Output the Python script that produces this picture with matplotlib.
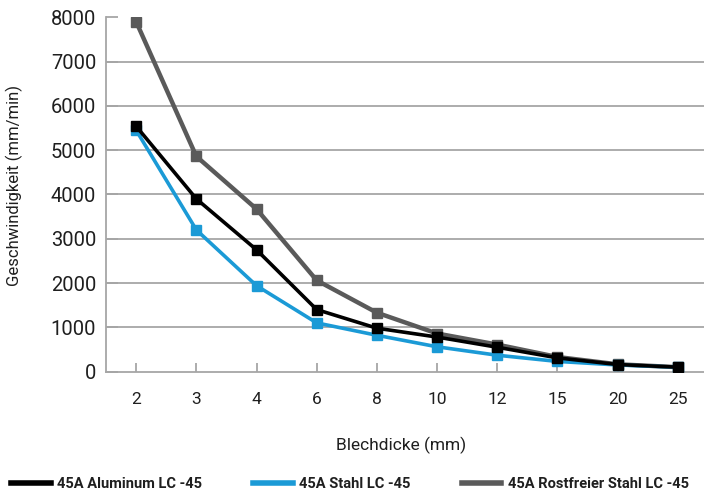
import matplotlib

matplotlib.use("Agg")
import matplotlib.pyplot as plt  # noqa: E402

plt.rcParams["font.family"] = ["Roboto", "DejaVu Sans"]

thickness = ["2", "3", "4", "6", "8", "10", "12", "15", "20", "25"]
aluminum = [5540, 3900, 2750, 1400, 980, 780, 550, 310, 160, 100]
stahl = [5450, 3200, 1940, 1100, 820, 560, 370, 230, 150, 100]
rostfrei = [7900, 4860, 3670, 2060, 1330, 860, 610, 330, 165, 100]
y_ticks = [0, 1000, 2000, 3000, 4000, 5000, 6000, 7000, 8000]

series = [
    ("45A Aluminum LC -45", aluminum, "#000000", 2.6, 3),
    ("45A Stahl LC -45", stahl, "#1b9ad6", 2.6, 2),
    ("45A Rostfreier Stahl LC -45", rostfrei, "#5a5a5a", 3.2, 1),
]

GRID = "#a6a6a6"
TEXT = "#1f1f1f"


def main() -> None:
    fig = plt.figure(figsize=(7.04, 4.92), dpi=100)
    ax = fig.add_axes([0.1506, 0.2447, 0.855, 0.7203])

    x = range(len(thickness))
    handles = []
    for label, vals, color, lw, z in series:
        (line,) = ax.plot(x, vals, color=color, lw=lw, marker="s", markersize=6.5,
                          markerfacecolor=color, markeredgecolor=color, zorder=z + 2, label=label)
        handles.append(line)

    ax.set_xlim(-0.5, len(thickness) - 0.5)
    ax.set_ylim(0, 8000)
    ax.set_xticks(list(x))
    ax.set_xticklabels(thickness)
    ax.set_yticks(y_ticks)
    ax.set_yticklabels([str(v) for v in y_ticks])

    # horizontal gridlines (none at the top value, only the short tick)
    for v in y_ticks[1:-1]:
        ax.axhline(v, color=GRID, lw=1.3, zorder=0)

    for side in ("top", "right"):
        ax.spines[side].set_visible(False)
    for side in ("left", "bottom"):
        ax.spines[side].set_color(GRID)
        ax.spines[side].set_linewidth(1.3)

    ax.tick_params(axis="y", direction="in", length=8.5, width=1.3, color=GRID,
                   pad=7, labelsize=14.5, labelcolor=TEXT)
    ax.tick_params(axis="x", direction="in", length=6.5, width=1.3, color=GRID,
                   pad=15, labelsize=12.5, labelcolor=TEXT)

    ax.set_ylabel("Geschwindigkeit (mm/min)", fontsize=12, color=TEXT)
    ax.yaxis.set_label_coords(-0.138, 0.524)
    ax.set_xlabel("Blechdicke (mm)", fontsize=12.5, color=TEXT)
    ax.xaxis.set_label_coords(0.49, -0.185)

    leg = fig.legend(handles=handles, loc="center left", bbox_to_anchor=(0.008, 0.016),
                     ncol=3, frameon=False, handlelength=2.7, handletextpad=0.45,
                     columnspacing=3.5, borderaxespad=0,
                     prop={"weight": "bold", "size": 10.5})
    for h in leg.legend_handles:
        h.set_marker("")
        h.set_linewidth(4)
    for t in leg.get_texts():
        t.set_color(TEXT)

    fig.savefig("out.png", dpi=100)
    plt.close(fig)


if __name__ == "__main__":
    main()
